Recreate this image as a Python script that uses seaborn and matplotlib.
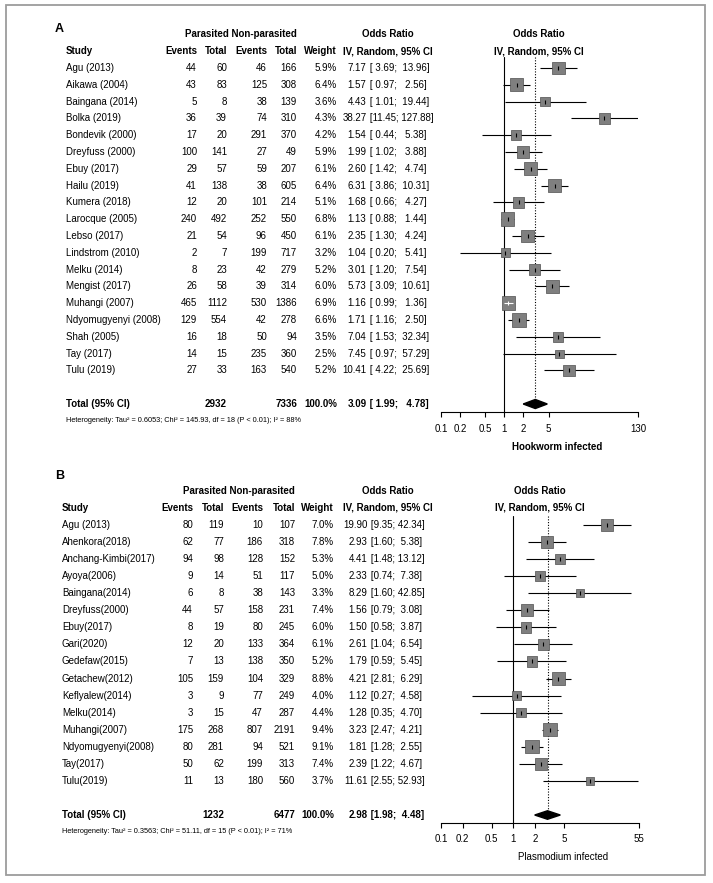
import numpy as np
import pandas as pd
import matplotlib
matplotlib.use("Agg")
import matplotlib.pyplot as plt
import matplotlib.transforms as mtransforms
from matplotlib.patches import Rectangle
from matplotlib.ticker import NullLocator
import seaborn as sns

# ---- panel A: hookworm ----
hw_study = ["Agu (2013)", "Aikawa (2004)", "Baingana (2014)", "Bolka (2019)",
            "Bondevik (2000)", "Dreyfuss (2000)", "Ebuy (2017)", "Hailu (2019)",
            "Kumera (2018)", "Larocque (2005)", "Lebso (2017)", "Lindstrom (2010)",
            "Melku (2014)", "Mengist (2017)", "Muhangi (2007)",
            "Ndyomugyenyi (2008)", "Shah (2005)", "Tay (2017)", "Tulu (2019)"]
hw_ev_p = [44, 43, 5, 36, 17, 100, 29, 41, 12, 240, 21, 2, 8, 26, 465, 129, 16, 14, 27]
hw_tot_p = [60, 83, 8, 39, 20, 141, 57, 138, 20, 492, 54, 7, 23, 58, 1112, 554, 18, 15, 33]
hw_ev_n = [46, 125, 38, 74, 291, 27, 59, 38, 101, 252, 96, 199, 42, 39, 530, 42, 50, 235, 163]
hw_tot_n = [166, 308, 139, 310, 370, 49, 207, 605, 214, 550, 450, 717, 279, 314, 1386, 278, 94, 360, 540]
hw_weight = [5.9, 6.4, 3.6, 4.3, 4.2, 5.9, 6.1, 6.4, 5.1, 6.8, 6.1, 3.2, 5.2, 6.0, 6.9, 6.6, 3.5, 2.5, 5.2]
hw_or = [7.17, 1.57, 4.43, 38.27, 1.54, 1.99, 2.60, 6.31, 1.68, 1.13, 2.35, 1.04, 3.01, 5.73, 1.16, 1.71, 7.04, 7.45, 10.41]
hw_lo = [3.69, 0.97, 1.01, 11.45, 0.44, 1.02, 1.42, 3.86, 0.66, 0.88, 1.30, 0.20, 1.20, 3.09, 0.99, 1.16, 1.53, 0.97, 4.22]
hw_hi = [13.96, 2.56, 19.44, 127.88, 5.38, 3.88, 4.74, 10.31, 4.27, 1.44, 4.24, 5.41, 7.54, 10.61, 1.36, 2.50, 32.34, 57.29, 25.69]
hw_totals = [2932, 7336]
hw_summary = [3.09, 1.99, 4.78]
hw_het = "Heterogeneity: Tau² = 0.6053; Chi² = 145.93, df = 18 (P < 0.01); I² = 88%"
hw_ticks = [0.1, 0.2, 0.5, 1, 2, 5, 130]
hw_ticklabels = ["0.1", "0.2", "0.5", "1", "2", "5", "130"]

# ---- panel B: plasmodium ----
pl_study = ["Agu (2013)", "Ahenkora(2018)", "Anchang-Kimbi(2017)", "Ayoya(2006)",
            "Baingana(2014)", "Dreyfuss(2000)", "Ebuy(2017)", "Gari(2020)",
            "Gedefaw(2015)", "Getachew(2012)", "Keflyalew(2014)", "Melku(2014)",
            "Muhangi(2007)", "Ndyomugyenyi(2008)", "Tay(2017)", "Tulu(2019)"]
pl_ev_p = [80, 62, 94, 9, 6, 44, 8, 12, 7, 105, 3, 3, 175, 80, 50, 11]
pl_tot_p = [119, 77, 98, 14, 8, 57, 19, 20, 13, 159, 9, 15, 268, 281, 62, 13]
pl_ev_n = [10, 186, 128, 51, 38, 158, 80, 133, 138, 104, 77, 47, 807, 94, 199, 180]
pl_tot_n = [107, 318, 152, 117, 143, 231, 245, 364, 350, 329, 249, 287, 2191, 521, 313, 560]
pl_weight = [7.0, 7.8, 5.3, 5.0, 3.3, 7.4, 6.0, 6.1, 5.2, 8.8, 4.0, 4.4, 9.4, 9.1, 7.4, 3.7]
pl_or = [19.90, 2.93, 4.41, 2.33, 8.29, 1.56, 1.50, 2.61, 1.79, 4.21, 1.12, 1.28, 3.23, 1.81, 2.39, 11.61]
pl_lo = [9.35, 1.60, 1.48, 0.74, 1.60, 0.79, 0.58, 1.04, 0.59, 2.81, 0.27, 0.35, 2.47, 1.28, 1.22, 2.55]
pl_hi = [42.34, 5.38, 13.12, 7.38, 42.85, 3.08, 3.87, 6.54, 5.45, 6.29, 4.58, 4.70, 4.21, 2.55, 4.67, 52.93]
pl_totals = [1232, 6477]
pl_summary = [2.98, 1.98, 4.48]
pl_het = "Heterogeneity: Tau² = 0.3563; Chi² = 51.11, df = 15 (P < 0.01); I² = 71%"
pl_ticks = [0.1, 0.2, 0.5, 1, 2, 5, 55]
pl_ticklabels = ["0.1", "0.2", "0.5", "1", "2", "5", "55"]

W, H, DPI = 713, 883, 100
FS = 7

sns.set_theme(style="white")
plt.rcParams['font.family'] = ['Liberation Sans', 'DejaVu Sans']

fig = plt.figure(figsize=(W / DPI, H / DPI), dpi=DPI)
fig.patch.set_facecolor("white")


def fmt_ci(lo, hi, wlo, whi):
    return " [" + f"{lo:.2f}".rjust(wlo) + "; " + f"{hi:.2f}".rjust(whi) + "]"


def draw_panel(letter, study, ev_p, tot_p, ev_n, tot_n, weight, orr, lo, hi,
               totals, summary, het, ticks, ticklabels, xlab, xlab_bold, lay):
    y0, dy = lay["y0"], lay["dy"]
    top_row = (lay["ax_top"] - y0) / dy
    bot_row = (lay["ax_bot"] - y0) / dy
    ax = fig.add_axes([lay["ax_l"] / W, 1 - lay["ax_bot"] / H,
                       (lay["ax_r"] - lay["ax_l"]) / W,
                       (lay["ax_bot"] - lay["ax_top"]) / H])
    ax.set_xscale("log")
    ax.set_xlim(ticks[0], ticks[-1])
    ax.set_ylim(bot_row, top_row)
    ax.patch.set_alpha(0)

    n = len(study)
    df = pd.DataFrame({"or": orr, "lo": lo, "hi": hi, "w": weight,
                       "row": np.arange(n, dtype=float)})
    total_row = lay["total_row"]

    # reference lines
    ax.axvline(1, color="black", lw=0.8, zorder=1)
    ax.vlines(summary[0], top_row, total_row, colors="black", lw=0.8,
              linestyles=(0, (1, 1.5)), zorder=1)

    # CI lines
    ax.hlines(df["row"], df["lo"], df["hi"], colors="black", lw=0.8, zorder=2)

    # boxes
    side_max = 13.5
    smax = (side_max * 72 / DPI) ** 2
    wmax = max(weight)
    sns.scatterplot(data=df, x="or", y="row", size="w", sizes=(0, smax),
                    size_norm=(0, wmax), marker="s", color="#7f7f7f",
                    edgecolor="#4f4f4f", linewidth=0.5, legend=False, ax=ax,
                    zorder=3, clip_on=False)

    # estimate ticks, white where the CI sits inside the box
    fig.canvas.draw()
    px = ax.transData.transform(np.column_stack([df["or"], df["row"]]))[:, 0]
    plo = ax.transData.transform(np.column_stack([df["lo"], df["row"]]))[:, 0]
    phi = ax.transData.transform(np.column_stack([df["hi"], df["row"]]))[:, 0]
    half = side_max * np.sqrt(df["w"] / wmax) / 2
    inside = ((px - plo) < half) & ((phi - px) < half)
    for i in range(n):
        col = "white" if inside[i] else "black"
        if inside[i]:
            ax.hlines(df["row"][i], df["lo"][i], df["hi"][i], colors="white",
                      lw=0.8, zorder=4)
        ax.scatter(df["or"][i], df["row"][i], marker="|", s=12, color=col,
                   linewidths=0.8, zorder=5)

    # summary diamond
    h = lay["dia_h"]
    ax.fill([summary[1], summary[0], summary[2], summary[0]],
            [total_row, total_row - h, total_row, total_row + h],
            color="black", zorder=3, clip_on=False)

    # axis styling
    ax.set_xticks(ticks)
    ax.set_xticklabels(ticklabels)
    ax.xaxis.set_minor_locator(NullLocator())
    ax.set_yticks([])
    ax.set_xlabel("")
    ax.set_ylabel("")
    for sp in ["left", "right", "top"]:
        ax.spines[sp].set_visible(False)
    ax.spines["bottom"].set_color("black")
    ax.spines["bottom"].set_linewidth(0.8)
    ax.tick_params(axis="x", direction="out", length=3.8, width=0.8,
                   pad=4.5, labelsize=FS, colors="black", bottom=True)

    tr = mtransforms.blended_transform_factory(fig.transFigure, ax.transData)
    c = lay["cols"]

    def T(x, y, s, ha="left", bold=False, size=FS):
        fig.text(x / W, y, s, transform=tr, ha=ha, va="center", fontsize=size,
                 fontweight="bold" if bold else "normal", color="black")

    # header
    T(lay["letter_x"], lay["letter_row"], letter, bold=True, size=9)
    T(c["tot2"], -2, "Parasited Non-parasited", ha="right", bold=True)
    T(c["or_c"], -2, "Odds Ratio", ha="center", bold=True)
    T(lay["plot_c"], -2, "Odds Ratio", ha="center", bold=True)
    T(c["study"], -1, "Study", bold=True)
    T(c["ev1"], -1, "Events", ha="right", bold=True)
    T(c["tot1"], -1, "Total", ha="right", bold=True)
    T(c["ev2"], -1, "Events", ha="right", bold=True)
    T(c["tot2"], -1, "Total", ha="right", bold=True)
    T(c["w"], -1, "Weight", ha="right", bold=True)
    T(c["or_c"], -1, "IV, Random, 95% CI", ha="center", bold=True)
    T(lay["plot_c"], -1, "IV, Random, 95% CI", ha="center", bold=True)

    wlo = max(len(f"{v:.2f}") for v in lo)
    whi = max(len(f"{v:.2f}") for v in hi)
    for i in range(n):
        T(c["study"], i, study[i])
        T(c["ev1"], i, str(ev_p[i]), ha="right")
        T(c["tot1"], i, str(tot_p[i]), ha="right")
        T(c["ev2"], i, str(ev_n[i]), ha="right")
        T(c["tot2"], i, str(tot_n[i]), ha="right")
        T(c["w"], i, f"{weight[i]:.1f}%", ha="right")
        T(c["est"], i, f"{orr[i]:.2f}", ha="right")
        T(c["est"], i, fmt_ci(lo[i], hi[i], wlo, whi))

    # total row
    T(c["study"], total_row, "Total (95% CI)", bold=True)
    T(c["tot1"], total_row, str(totals[0]), ha="right", bold=True)
    T(c["tot2"], total_row, str(totals[1]), ha="right", bold=True)
    T(c["w"], total_row, "100.0%", ha="right", bold=True)
    T(c["est"], total_row, f"{summary[0]:.2f}", ha="right", bold=True)
    T(c["est"], total_row, fmt_ci(summary[1], summary[2], wlo, whi), bold=True)
    T(c["study"], (lay["het_y"] - y0) / dy, het, size=5.3)
    T(lay["xlab_c"], (lay["xlab_y"] - y0) / dy, xlab, ha="center", bold=xlab_bold)
    return ax


lay_a = dict(y0=68, dy=16.8, total_row=20, ax_top=57, ax_bot=412,
             ax_l=441, ax_r=638.1, dia_h=0.27, letter_x=55, letter_row=-2.3,
             plot_c=538.5, het_y=421, xlab_c=557, xlab_y=447,
             cols=dict(study=66, ev1=197, tot1=227, ev2=267, tot2=297, w=337,
                       est=366.5, or_c=388))
lay_b = dict(y0=525, dy=17.06, total_row=17, ax_top=516, ax_bot=822.7,
             ax_l=441, ax_r=639, dia_h=0.25, letter_x=55, letter_row=-2.85,
             plot_c=540, het_y=831.7, xlab_c=563, xlab_y=857,
             cols=dict(study=62, ev1=193, tot1=224, ev2=263, tot2=295, w=334,
                       est=367.5, or_c=387.5))

draw_panel("A", hw_study, hw_ev_p, hw_tot_p, hw_ev_n, hw_tot_n, hw_weight,
           hw_or, hw_lo, hw_hi, hw_totals, hw_summary, hw_het, hw_ticks,
           hw_ticklabels, "Hookworm infected", True, lay_a)
draw_panel("B", pl_study, pl_ev_p, pl_tot_p, pl_ev_n, pl_tot_n, pl_weight,
           pl_or, pl_lo, pl_hi, pl_totals, pl_summary, pl_het, pl_ticks,
           pl_ticklabels, "Plasmodium infected", False, lay_b)

# light frame around the whole figure
fig.patches.append(Rectangle((6 / W, 1 - 875 / H), 699 / W, 870 / H,
                             transform=fig.transFigure, fill=False,
                             edgecolor="#9c9c9c", lw=1.3))

fig.savefig("out.png", dpi=DPI)
